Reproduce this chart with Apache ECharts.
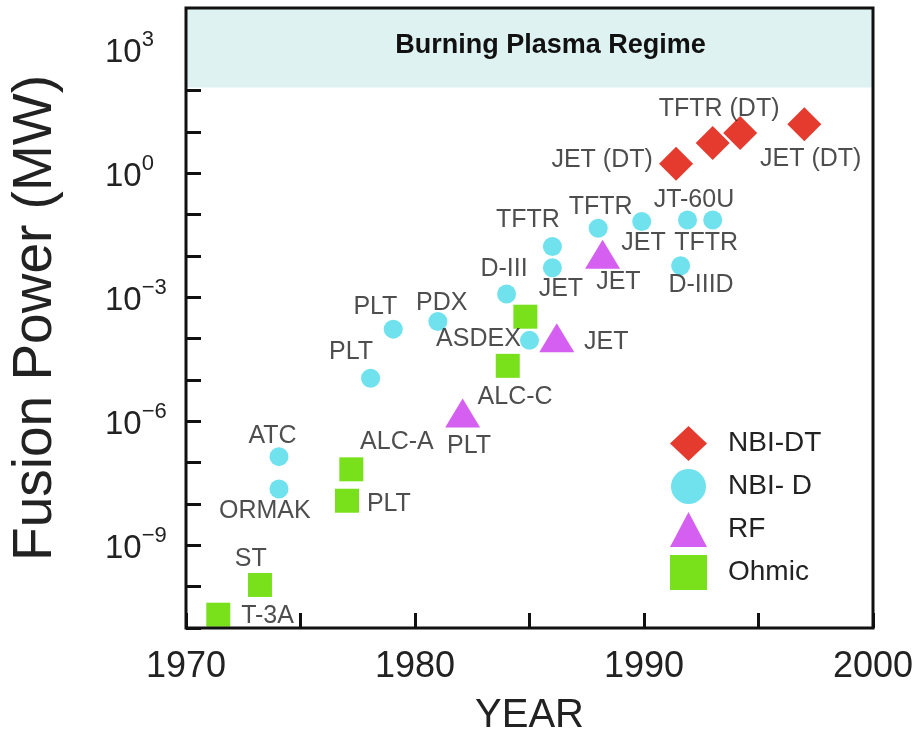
<!DOCTYPE html>
<html><head><meta charset="utf-8">
<script src="https://cdn.jsdelivr.net/npm/echarts@6/dist/echarts.min.js"></script>
<style>html,body{margin:0;padding:0;background:#fff}#c{width:918px;height:738px}</style>
</head><body><div id="c"></div>
<script>
// ---- data, power in MW ----
const seriesNames = ['NBI-DT', 'NBI- D', 'RF', 'Ohmic'];
const nbiDtYears = [1991.4, 1993.0, 1994.2, 1997.0];
const nbiDtPower = [1.7, 5.4, 9.5, 15.5];
const nbiDYears = [1974.06, 1974.06, 1978.06, 1979.05, 1981.0, 1984.0, 1985.0, 1986.0, 1986.0, 1988.0, 1989.9, 1991.9, 1993.0, 1991.6];
const nbiDPower = [1.4e-7, 2.3e-8, 1.1e-5, 1.7e-4, 2.6e-4, 1.2e-3, 9.1e-5, 1.7e-2, 5.2e-3, 4.7e-2, 6.8e-2, 7.4e-2, 7.4e-2, 5.8e-3];
const rfYears = [1982.08, 1986.19, 1988.19];
const rfPower = [1.6e-6, 1.05e-4, 1.1e-2];
const ohmicYears = [1971.41, 1973.23, 1977.03, 1977.22, 1984.05, 1984.82];
const ohmicPower = [2.1e-11, 1.1e-10, 1.2e-8, 6.9e-8, 2.2e-5, 3.4e-4];
const labelTexts = ['TFTR (DT)', 'JET (DT)', 'JET (DT)', 'JT-60U', 'TFTR', 'TFTR', 'JET', 'TFTR', 'D-III', 'JET', 'JET', 'D-IIID', 'PLT', 'PDX', 'ASDEX', 'JET', 'PLT', 'ALC-C', 'PLT', 'ATC', 'ALC-A', 'ORMAK', 'PLT', 'ST', 'T-3A'];
const labelYears = [1993.28, 1997.28, 1988.17, 1992.18, 1988.11, 1984.93, 1989.98, 1992.71, 1983.89, 1988.88, 1986.37, 1992.49, 1978.27, 1981.17, 1982.77, 1988.35, 1977.21, 1984.37, 1982.36, 1973.78, 1979.21, 1973.44, 1978.86, 1972.83, 1973.56];
const labelPower = [36, 2.2, 2.1, 0.22, 0.15, 0.074, 0.020, 0.020, 4.7e-3, 2.3e-3, 1.6e-3, 2.0e-3, 5.9e-4, 7.1e-4, 1.0e-4, 8.3e-5, 4.8e-5, 3.9e-6, 2.5e-7, 4.3e-7, 3.1e-7, 6.8e-9, 1.0e-8, 4.6e-10, 1.9e-11];
const xTickLabels = [1970, 1980, 1990, 2000];
const yLabelExponents = [3, 0, -3, -6, -9];
const yDecadeRange = [-11, 4];           // axis spans 1e-11 .. 1e4 MW
const burningPlasmaRange = [120, 1e4];   // MW
const bandText = 'Burning Plasma Regime';

// the y axis is a decade (log10) axis; values are converted from MW
const lg = v => Math.log10(v);
const zip = (a, b) => a.map((v, i) => [v, lg(b[i])]);
const colors = ['#e53a2e', '#6fe2ee', '#d55ff0', '#78e11c'];

const chart = echarts.init(document.getElementById('c'), null, {renderer: 'canvas'});
const option = {
  animation: false,
  backgroundColor: '#fff',
  grid: {left: 186, right: 45, top: 8, bottom: 110, outerBoundsMode: 'none', containLabel: false,
         show: true, borderColor: '#111', borderWidth: 3, backgroundColor: 'transparent', z: 5},
  legend: {
    data: seriesNames, orient: 'vertical', left: 665, top: 421,
    itemWidth: 37, itemHeight: 35, itemGap: 8,
    textStyle: {fontFamily: 'Liberation Sans', fontSize: 28, color: '#222', padding: [0, 0, 0, 16]}
  },
  xAxis: {
    type: 'value', min: 1970, max: 2000, interval: 5,
    axisLine: {show: false, onZero: false},
    splitLine: {show: false},
    axisTick: {inside: true, length: 15, lineStyle: {color: '#111', width: 3}},
    axisLabel: {
      margin: 21, fontFamily: 'Liberation Sans', fontSize: 36, color: '#222',
      formatter: v => xTickLabels.includes(Math.round(v)) ? String(Math.round(v)) : ''
    },
    name: 'YEAR', nameLocation: 'middle', nameGap: 68,
    nameTextStyle: {fontFamily: 'Liberation Sans', fontSize: 40, color: '#222'}
  },
  yAxis: {
    type: 'value', min: yDecadeRange[0], max: yDecadeRange[1], interval: 1,
    axisLine: {show: false, onZero: false},
    splitLine: {show: false},
    axisTick: {inside: true, length: 15, lineStyle: {color: '#111', width: 3}},
    axisLabel: {
      margin: 81, align: 'left',
      formatter: v => {
        const n = Math.round(v);
        if (!yLabelExponents.includes(n)) return '';
        return '{b|10}{s|' + (n < 0 ? '\u2212' : '') + Math.abs(n) + '}';
      },
      rich: {
        b: {fontFamily: 'Liberation Sans', fontSize: 33, color: '#222', padding: [7, 0, 0, 0]},
        s: {fontFamily: 'Liberation Sans', fontSize: 22, color: '#222', verticalAlign: 'top'}
      }
    },
    name: 'Fusion Power (MW)', nameLocation: 'middle', nameGap: 123,
    nameTextStyle: {fontFamily: 'Liberation Sans', fontSize: 55, color: '#222'}
  },
  series: [
    {
      name: 'NBI-DT', type: 'scatter', symbol: 'diamond', symbolSize: 34, z: 4,
      itemStyle: {color: colors[0], opacity: 1},
      data: zip(nbiDtYears, nbiDtPower),
      markArea: {
        silent: true,
        itemStyle: {color: '#def2f1'},
        label: {show: true, position: 'inside', offset: [21, -2], fontFamily: 'Liberation Sans', fontWeight: 'bold', fontSize: 27, color: '#111'},
        data: [[{yAxis: lg(burningPlasmaRange[0]), name: bandText}, {yAxis: lg(burningPlasmaRange[1])}]]
      }
    },
    {name: 'NBI- D', type: 'scatter', symbol: 'circle', symbolSize: 19, z: 3, itemStyle: {color: colors[1], opacity: 1}, data: zip(nbiDYears, nbiDPower)},
    {name: 'RF', type: 'scatter', symbol: 'triangle', symbolSize: [35, 29], z: 3, itemStyle: {color: colors[2], opacity: 1}, data: zip(rfYears, rfPower)},
    {name: 'Ohmic', type: 'scatter', symbol: 'rect', symbolSize: 24, z: 3, itemStyle: {color: colors[3], opacity: 1}, data: zip(ohmicYears, ohmicPower)},
    {
      name: 'labels', type: 'scatter', symbolSize: 2, z: 6, silent: true,
      itemStyle: {color: 'rgba(0,0,0,0)'},
      label: {show: true, position: 'inside', formatter: p => p.name, fontFamily: 'Liberation Sans', fontSize: 25, color: '#222'},
      data: labelTexts.map((t, i) => ({name: t, value: [labelYears[i], lg(labelPower[i])]}))
    }
  ]
};
chart.setOption(option);
</script></body></html>
